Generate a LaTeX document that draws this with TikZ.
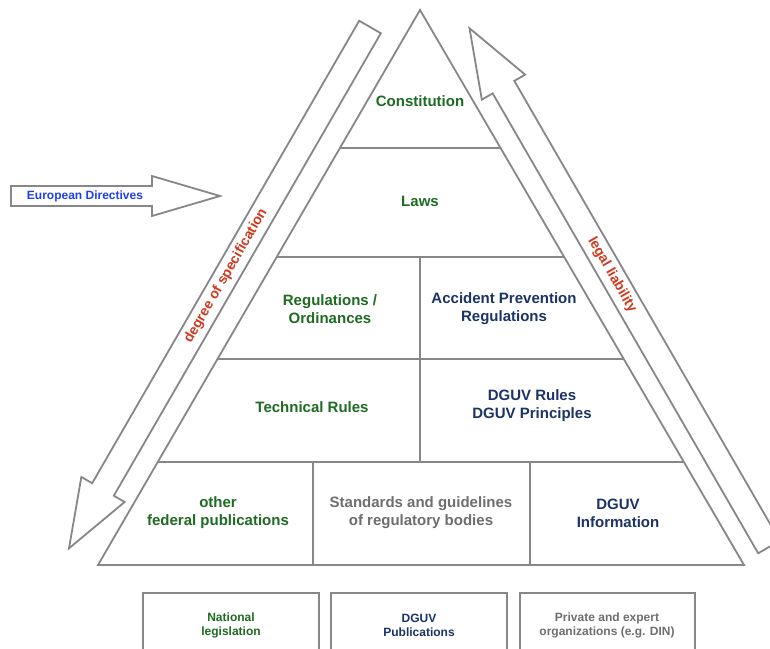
\documentclass[tikz,border=0pt]{standalone}
\usepackage{fontspec}
\setmainfont{Liberation Sans}
\usetikzlibrary{positioning,calc}
\definecolor{Frame}{HTML}{87878B}
\definecolor{LawGreen}{HTML}{1E6B22}
\definecolor{DguvBlue}{HTML}{1B3366}
\definecolor{NormGrey}{HTML}{6E6E70}
\definecolor{EuBlue}{HTML}{1F3FF0}
\definecolor{Scale}{HTML}{D2381C}

\tikzset{
  frame/.style={draw=Frame,line width=1.8pt,line join=miter},
  tier/.style={font=\bfseries\fontsize{15}{18}\selectfont,align=center},
  source/.style={font=\bfseries\fontsize{12}{14}\selectfont,align=center},
  scalelabel/.style={font=\bfseries\fontsize{14}{16}\selectfont,text=Scale},
  % block arrow: shaft length, shaft half width, head half width, head length
  pics/blockarrow/.style n args={4}{code={%
    \draw[frame,fill=white] (0,-#2) -- (#1,-#2) -- (#1,-#3) -- ++(#4,#3)
      -- (#1,#3) -- (#1,#2) -- (0,#2) -- cycle;}}
}

\begin{document}
\begin{tikzpicture}[x=1pt,y=-1pt]
\clip (0,0) rectangle (770,648);
\fill[white] (0,0) rectangle (770,648);

% pyramid outline
\coordinate (apex) at (420,10);
\coordinate (bl) at (98,565);
\coordinate (br) at (744,565);
\draw[frame] (apex) -- (bl) -- (br) -- cycle;

% tiers
\foreach \f in {0.2486,0.4450,0.6288,0.8144}
  \draw[frame] ($(apex)!\f!(bl)$) -- ($(apex)!\f!(br)$);
\draw[frame] (420,257) -- (420,462);
\draw[frame] (313,462) -- (313,565);
\draw[frame] (530,462) -- (530,565);

\node[tier,text=LawGreen] (constitution) at (420,101) {Constitution};
\node[tier,text=LawGreen] (laws) at (420,201) {Laws};
\node[tier,text=LawGreen] (ordinances) at (330,309) {Regulations /\\Ordinances};
\node[tier,text=DguvBlue] (prevention) at (504,309) {Accident Prevention\\Regulations};
\node[tier,text=LawGreen] (technical) at (312,407) {Technical Rules};
\node[tier,text=DguvBlue] (dguvrules) at (532,406) {DGUV Rules\\DGUV Principles};
\node[tier,text=LawGreen] (federal) at (218,513) {other\\federal publications};
\node[tier,text=NormGrey] (standards) at (421,513) {Standards and guidelines\\of regulatory bodies};
\node[tier,text=DguvBlue] (dguvinfo) at (618,513) {DGUV\\Information};

% side arrows
\pic[rotate=240] at (370,27) {blockarrow={534}{12.5}{25}{68}};
\pic[rotate=120] at (769,547) {blockarrow={531}{12.5}{25}{68}};
\node[scalelabel,rotate=60] (specification) at (226,276) {degree of specification};
\node[scalelabel,rotate=-60] (liability) at (612,275) {legal liability};

% european input
\pic at (11,196) {blockarrow={141}{10}{20}{68}};
\node[source,text=EuBlue] (directives) at (85,196) {European Directives};

% legend boxes
\draw[frame] (143,593) rectangle (319,660);
\draw[frame] (331,593) rectangle (507,660);
\draw[frame] (520,593) rectangle (695,660);
\node[source,text=LawGreen] (national) at (231,625) {National\\legislation};
\node[source,text=DguvBlue] (publications) at (419,625) {DGUV\\Publications};
\node[source,text=NormGrey] (private) at (607,625) {Private and expert\\organizations (e.g. DIN)};
\end{tikzpicture}
\end{document}
